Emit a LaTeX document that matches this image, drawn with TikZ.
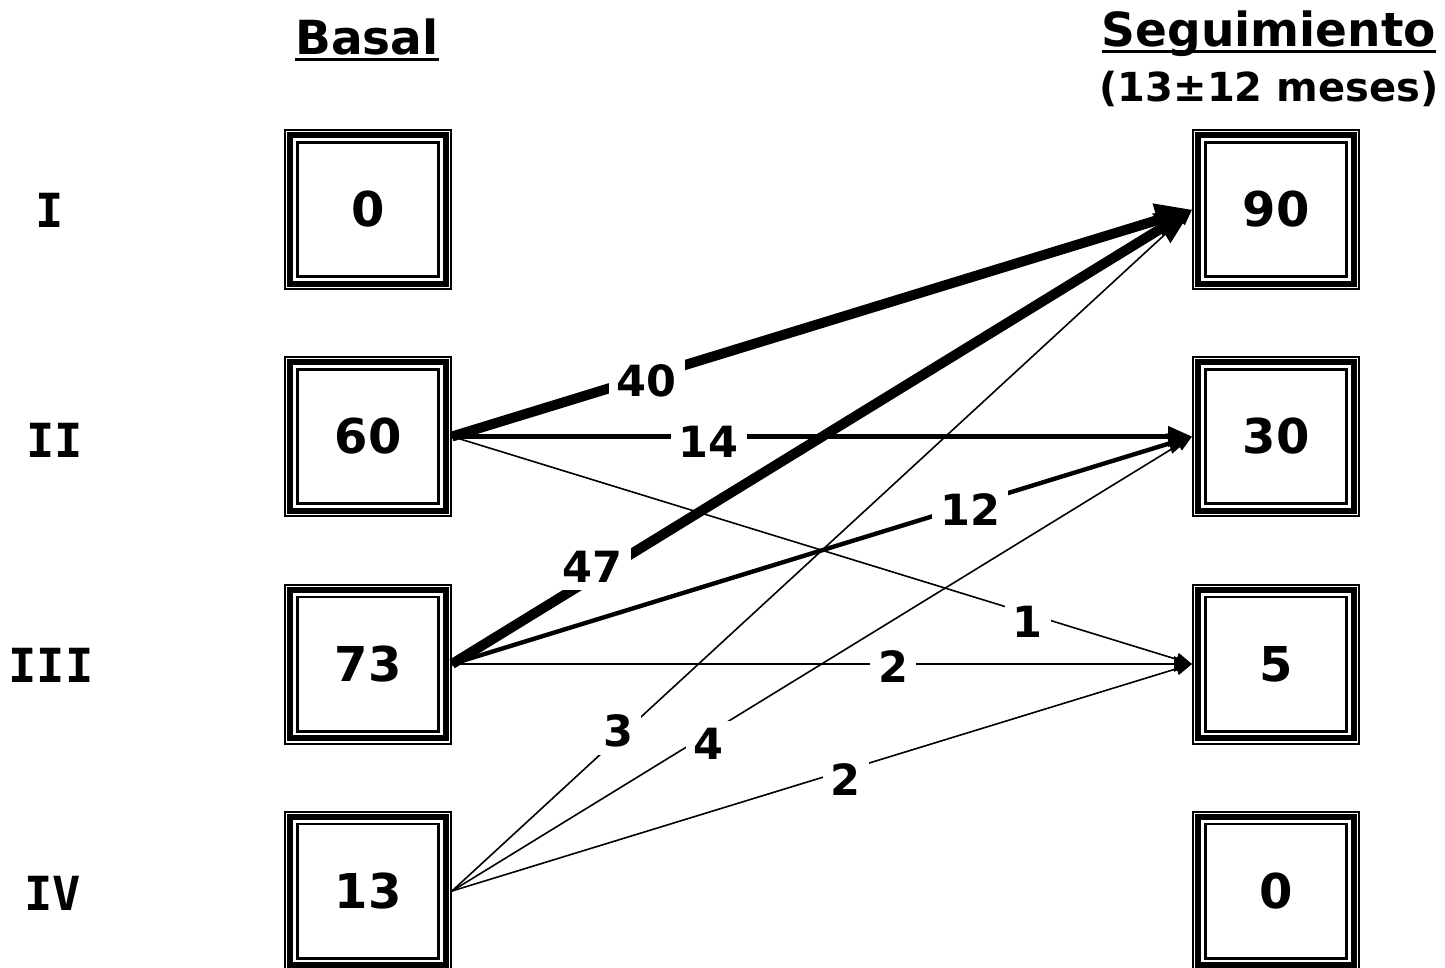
\documentclass[tikz,border=0pt]{standalone}
\usepackage{fontspec}
\setmainfont{DejaVu Sans}
\newfontfamily\romana{DejaVu Sans Mono}
\usetikzlibrary{arrows.meta}

% subrayado a altura fija (cruza los descendentes)
\newcommand\subrayado[1]{\setbox0\hbox{#1}\rlap{\rule[-3pt]{\wd0}{1.5pt}}\box0}

\begin{document}
\begin{tikzpicture}[x=0.5pt,y=-0.5pt]

  % ── Estilos ────────────────────────
  \tikzset{
    caja/.style = {draw, line width=1pt, minimum width=83pt, minimum height=79.5pt,
      inner sep=0pt, font=\bfseries\fontsize{24}{26}\selectfont,
      path picture={
        \draw[line width=3pt]
          ([shift={(2.65pt,-2.65pt)}]path picture bounding box.north west) rectangle
          ([shift={(-2.65pt,2.65pt)}]path picture bounding box.south east);
        \draw[line width=1.3pt]
          ([shift={(6.15pt,-6.15pt)}]path picture bounding box.north west) rectangle
          ([shift={(-6.15pt,6.15pt)}]path picture bounding box.south east);
      }},
    titulo/.style = {inner sep=0pt, font=\bfseries\fontsize{23.5}{26}\selectfont},
    fila/.style = {inner sep=0pt, font=\romana\bfseries\fontsize{23.5}{26}\selectfont},
    grueso/.style = {line width=5pt, -{Triangle[length=18pt,width=16pt]}},
    medio/.style = {line width=2.2pt, -{Triangle[length=12pt,width=10pt]}},
    fino/.style = {line width=1.2pt, -{Triangle[length=9pt,width=7.5pt]}},
    finisimo/.style = {line width=0.8pt, -{Triangle[length=8pt,width=6.5pt]}},
    etiqueta/.style = {fill=white, inner sep=4pt, font=\bfseries\fontsize{21.5}{24}\selectfont}
  }

  \useasboundingbox (0,0) rectangle (1445,968);

  % =========================================================
  % Cabeceras
  % =========================================================
  \node[titulo, anchor=base] (basal) at (367,55) {\subrayado{Basal}};
  \node[titulo, anchor=base] (seguim) at (1269,47) {\subrayado{Seguimiento}};
  \node[titulo, anchor=base, font=\bfseries\fontsize{20}{22}\selectfont]
    (meses) at (1269,102) {(13±12 meses)};

  % Clases (filas)
  \node[fila] (fI)   at (50,210) {I};
  \node[fila] (fII)  at (55,440) {II};
  \node[fila] (fIII) at (51,665) {III};
  \node[fila] (fIV)  at (53,893) {IV};

  % =========================================================
  % Cajas basal y seguimiento
  % =========================================================
  \node[caja] (b1) at (368,209.5) {0};
  \node[caja] (b2) at (368,436.5) {60};
  \node[caja] (b3) at (368,664) {73};
  \node[caja] (b4) at (368,891) {13};

  \node[caja] (s1) at (1276,209.5) {90};
  \node[caja] (s2) at (1276,436.5) {30};
  \node[caja] (s3) at (1276,664) {5};
  \node[caja] (s4) at (1276,891) {0};

  % =========================================================
  % Transiciones
  % =========================================================
  % hacia clase I
  \draw[grueso] (b2.east) -- node[etiqueta, pos=0.263, yshift=-2pt] {40} (s1.west);
  \draw[grueso] (b3.east) -- node[etiqueta, pos=0.19, yshift=5.5pt] {47} (s1.west);
  \draw[finisimo] (b4.east) -- node[etiqueta, pos=0.225, yshift=3.5pt] {3} (s1.west);

  % hacia clase II
  \draw[medio] (b2.east) -- node[etiqueta, pos=0.347, yshift=-2.5pt] {14} (s2.west);
  \draw[medio] (b3.east) -- node[etiqueta, pos=0.70, yshift=-2.5pt] {12} (s2.west);
  \draw[finisimo] (b4.east) -- node[etiqueta, pos=0.347, yshift=-5.5pt] {4} (s2.west);

  % hacia clase III
  \draw[finisimo] (b2.east) -- node[etiqueta, pos=0.778, yshift=-4pt] {1} (s3.west);
  \draw[fino] (b3.east) -- node[etiqueta, pos=0.596, yshift=-1.5pt] {2} (s3.west);
  \draw[finisimo] (b4.east) -- node[etiqueta, pos=0.532, yshift=-4.5pt] {2} (s3.west);

\end{tikzpicture}
\end{document}
